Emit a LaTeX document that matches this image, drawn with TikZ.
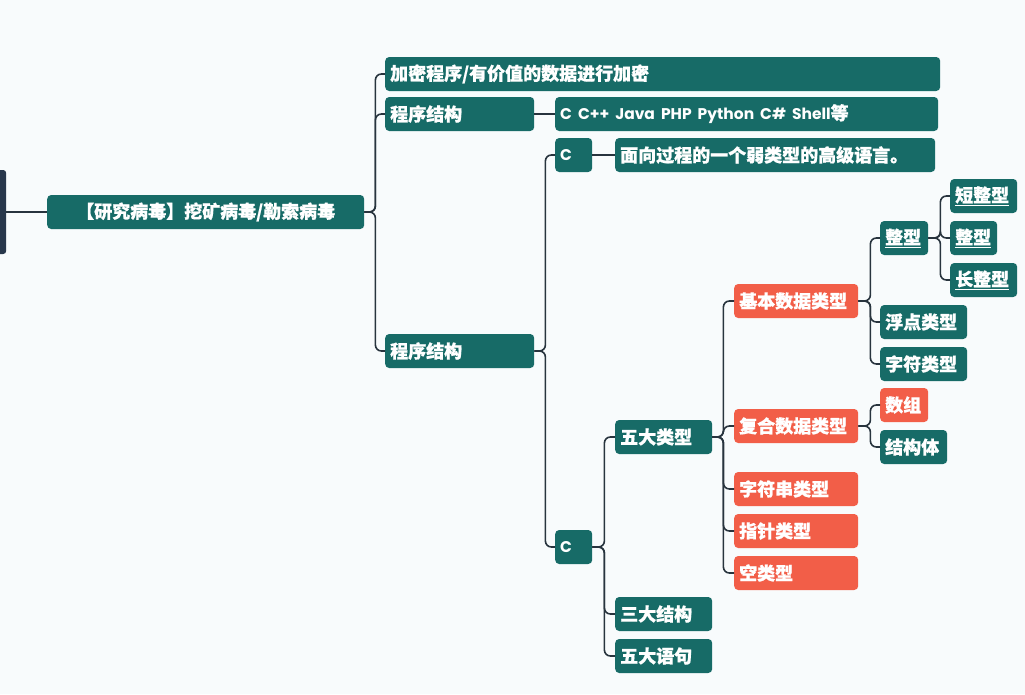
\documentclass[tikz,border=0pt]{standalone}
\usepackage{fontspec}
\setmainfont{Noto Sans CJK SC}[BoldFeatures={FakeBold=0.8}]
\newfontfamily\latinfont{Poppins}
\definecolor{bgc}{RGB}{248,251,252}
\definecolor{teal}{RGB}{23,107,103}
\definecolor{coral}{RGB}{242,94,72}
\definecolor{wire}{RGB}{40,52,62}
\definecolor{barc}{RGB}{40,55,75}
\tikzset{
  tbox/.style={rounded corners=4pt, fill=teal, text=white, anchor=west,
    font=\bfseries\fontsize{18}{20}\selectfont, inner xsep=5pt, inner ysep=0pt,
    minimum height=34pt, align=left},
  rbox/.style={tbox, fill=coral},
  conn/.style={draw=wire, line width=1.6pt, rounded corners=6pt},
}
\newcommand{\ul}[1]{\underline{#1}}
\begin{document}
\begin{tikzpicture}[x=1pt,y=-1pt]
\useasboundingbox (0,0) rectangle (1025,694);
\fill[bgc] (0,0) rectangle (1025,694);
\clip (0,0) rectangle (1025,694);

% side bar and root
\node[fill=barc, rounded corners=3pt, minimum width=10pt, minimum height=84pt, inner sep=0pt, anchor=west] (bar) at (-4,212) {};
\node[tbox, align=center, text width=307pt] (root) at (47,212) {【研究病毒】挖矿病毒/勒索病毒};

% first level
\node[tbox, text width=545pt] (enc) at (385,74) {加密程序/有价值的数据进行加密};
\node[tbox, text width=139pt] (ps1) at (385,114) {程序结构};
\node[tbox, text width=373pt] (langs) at (555,114) {{\latinfont\fontsize{15.5}{18}\selectfont C C++ Java PHP Python C\# Shell}等};
\node[tbox, text width=139pt] (ps2) at (385,351) {程序结构};

% C branches
\node[tbox, text width=27pt] (c1) at (555,155) {{\latinfont\fontsize{15.5}{18}\selectfont C}};
\node[tbox, text width=310pt] (desc) at (615,155) {面向过程的一个弱类型的高级语言。};
\node[tbox, text width=27pt] (c2) at (555,547) {{\latinfont\fontsize{15.5}{18}\selectfont C}};

\node[tbox, text width=87pt] (wdlx) at (615,437) {五大类型};
\node[tbox, text width=87pt] (sdjg) at (615,614) {三大结构};
\node[tbox, text width=87pt] (wdyj) at (615,656) {五大语句};

% five kinds of types
\node[rbox, text width=114pt] (jbsj) at (734,301) {基本数据类型};
\node[rbox, text width=114pt] (fhsj) at (734,426) {复合数据类型};
\node[rbox, text width=114pt] (zfc) at (734,489) {字符串类型};
\node[rbox, text width=114pt] (zz) at (734,531) {指针类型};
\node[rbox, text width=114pt] (klx) at (734,573) {空类型};

% basic types
\node[tbox, text width=38pt] (zx) at (880,238) {\ul{整型}};
\node[tbox, text width=77pt] (fd) at (880,322) {浮点类型};
\node[tbox, text width=77pt] (zf) at (880,364) {字符类型};

\node[tbox, text width=57pt] (dzx) at (950,196) {\ul{短整型}};
\node[tbox, text width=37pt] (zx2) at (950,238) {\ul{整型}};
\node[tbox, text width=57pt] (czx) at (950,280) {\ul{长整型}};

% compound types
\node[rbox, text width=38pt] (sz) at (880,405) {数组};
\node[tbox, text width=57pt] (jgt) at (880,447) {结构体};

% connectors
\draw[conn] (bar.east) -- (root.west);
\foreach \c in {enc,ps1,ps2}
  \draw[conn] (root.east) -- ([xshift=11pt]root.east) |- (\c.west);
\draw[conn] (ps1.east) -- (langs.west);
\foreach \c in {c1,c2}
  \draw[conn] (ps2.east) -- ([xshift=11pt]ps2.east) |- (\c.west);
\draw[conn] (c1.east) -- (desc.west);
\foreach \c in {wdlx,sdjg,wdyj}
  \draw[conn] (c2.east) -- ([xshift=12pt]c2.east) |- (\c.west);
\foreach \c in {jbsj,fhsj,zfc,zz,klx}
  \draw[conn] (wdlx.east) -- ([xshift=11pt]wdlx.east) |- (\c.west);
\foreach \c in {zx,fd,zf}
  \draw[conn] (jbsj.east) -- ([xshift=12pt]jbsj.east) |- (\c.west);
\foreach \c in {dzx,zx2,czx}
  \draw[conn] (zx.east) -- ([xshift=12pt]zx.east) |- (\c.west);
\foreach \c in {sz,jgt}
  \draw[conn] (fhsj.east) -- ([xshift=12pt]fhsj.east) |- (\c.west);
\end{tikzpicture}
\end{document}
